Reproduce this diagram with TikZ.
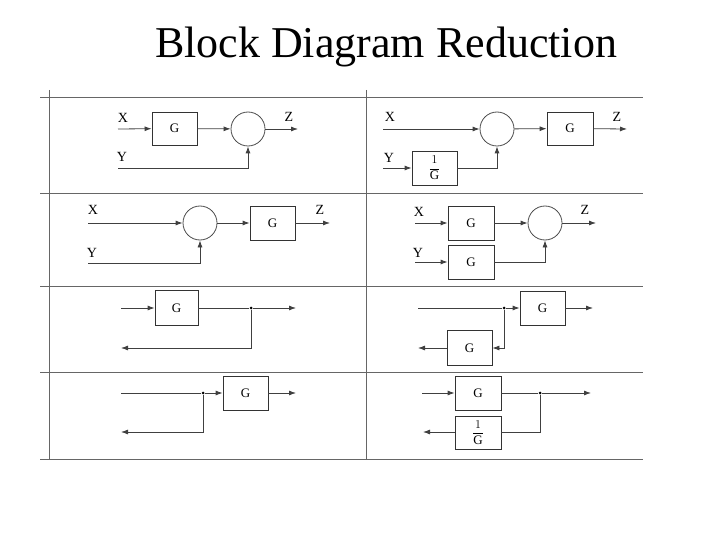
\documentclass[tikz,border=0pt]{standalone}
\usepackage{fontspec}
\setmainfont{Liberation Serif}
\usetikzlibrary{arrows.meta}
\begin{document}
\begin{tikzpicture}[x=1pt,y=-1pt,
  blk/.style={draw,thick,draw=black!80,minimum width=0pt,minimum height=0pt,inner sep=0pt,font=\fontsize{13}{14}\selectfont},
  sum/.style={draw,thick,draw=black!70,circle,minimum size=34pt,inner sep=0pt},
  ln/.style={thick,draw=black!75},
  ar/.style={ln,-{Latex[length=7pt,width=5pt]}},
  lab/.style={font=\fontsize{14}{15}\selectfont,inner sep=0pt},
  dot/.style={circle,fill=black,inner sep=0pt,minimum size=3pt},
  grid/.style={thick,draw=black!60}]
\useasboundingbox (0,0) rectangle (720,540);
\node[font=\fontsize{44}{46}\selectfont] (title) at (386,47) {Block Diagram Reduction};
% grid
\foreach \yy in {97,193,286,372,459} \draw[grid] (40,\yy) -- (643,\yy);
\draw[grid] (49,90) -- (49,459);
\draw[grid] (366,90) -- (366,459);
% panel 1 left
\node[blk,minimum width=45pt,minimum height=33pt] (g1) at (174.5,128.5) {G};
\node[sum] (s1) at (248,129) {};
\coordinate (x1) at (118,129); \coordinate (y1) at (118,168); \coordinate (z1) at (298,129);
\node[lab] (lx1) at (123,118) {X}; \node[lab] (ly1) at (122,157) {Y}; \node[lab] (lz1) at (289,117) {Z};
\draw[ar] (x1) -- (g1); \draw[ar] (g1) -- (s1); \draw[ar] (s1) -- (z1);
\draw[ar] (y1) -| (s1);
% panel 1 right
\node[sum] (s2) at (497,129) {};
\node[blk,minimum width=46pt,minimum height=33pt] (g2) at (570,128.5) {G};
\node[blk,minimum width=45pt,minimum height=34pt] (g2b) at (434.5,168) {$\displaystyle\frac{1}{\mathrm{G}}$};
\coordinate (x2) at (383,129); \coordinate (y2) at (383,168); \coordinate (z2) at (627,129);
\node[lab] (lx2) at (390,117) {X}; \node[lab] (ly2) at (389,158) {Y}; \node[lab] (lz2) at (617,117) {Z};
\draw[ar] (x2) -- (s2); \draw[ar] (s2) -- (g2); \draw[ar] (g2) -- (z2);
\draw[ar] (y2) -- (g2b); \draw[ar] (g2b) -| (s2);
% panel 2 left
\node[sum] (s3) at (200,223) {};
\node[blk,minimum width=45pt,minimum height=34pt] (g3) at (272.5,223) {G};
\coordinate (x3) at (88,223); \coordinate (y3) at (88,263); \coordinate (z3) at (330,223);
\node[lab] (lx3) at (93,210) {X}; \node[lab] (ly3) at (92,253) {Y}; \node[lab] (lz3) at (320,210) {Z};
\draw[ar] (x3) -- (s3); \draw[ar] (s3) -- (g3); \draw[ar] (g3) -- (z3);
\draw[ar] (y3) -| (s3);
% panel 2 right
\node[blk,minimum width=46pt,minimum height=34pt] (g4) at (471,223) {G};
\node[blk,minimum width=46pt,minimum height=34pt] (g4b) at (471,262) {G};
\node[sum] (s4) at (545,223) {};
\coordinate (x4) at (415,223); \coordinate (y4) at (415,262); \coordinate (z4) at (596,223);
\node[lab] (lx4) at (419,212) {X}; \node[lab] (ly4) at (418,253) {Y}; \node[lab] (lz4) at (585,210) {Z};
\draw[ar] (x4) -- (g4); \draw[ar] (g4) -- (s4); \draw[ar] (s4) -- (z4);
\draw[ar] (y4) -- (g4b); \draw[ar] (g4b) -| (s4);
% panel 3 left
\node[blk,minimum width=43pt,minimum height=35pt] (g5) at (176.5,308) {G};
\node[dot] (d5) at (251,308) {};
\coordinate (i5) at (121,308); \coordinate (o5) at (296,308); \coordinate (f5) at (121,348);
\draw[ar] (i5) -- (g5); \draw[ln] (g5) -- (d5); \draw[ar] (d5) -- (o5);
\draw[ar] (d5) |- (f5);
% panel 3 right
\node[blk,minimum width=45pt,minimum height=34pt] (g6) at (542.5,308) {G};
\node[blk,minimum width=45pt,minimum height=35pt] (g6b) at (469.5,348) {G};
\node[dot] (d6) at (504,308) {};
\coordinate (i6) at (418,308); \coordinate (o6) at (593,308); \coordinate (f6) at (418,348);
\draw[ln] (i6) -- (d6); \draw[ar] (d6) -- (g6); \draw[ar] (g6) -- (o6);
\draw[ar] (d6) |- (g6b); \draw[ar] (g6b) -- (f6);
% panel 4 left
\node[blk,minimum width=45pt,minimum height=34pt] (g7) at (245.5,393) {G};
\node[dot] (d7) at (203,393) {};
\coordinate (i7) at (121,393); \coordinate (o7) at (296,393); \coordinate (f7) at (121,432);
\draw[ln] (i7) -- (d7); \draw[ar] (d7) -- (g7); \draw[ar] (g7) -- (o7);
\draw[ar] (d7) |- (f7);
% panel 4 right
\node[blk,minimum width=46pt,minimum height=34pt] (g8) at (478,393) {G};
\node[blk,minimum width=46pt,minimum height=33pt] (g8b) at (478,432.5) {$\displaystyle\frac{1}{\mathrm{G}}$};
\node[dot] (d8) at (540,393) {};
\coordinate (i8) at (422,393); \coordinate (o8) at (591,393); \coordinate (f8) at (423,432);
\draw[ar] (i8) -- (g8); \draw[ln] (g8) -- (d8); \draw[ar] (d8) -- (o8);
\draw[ln] (d8) |- (g8b.east |- f8); \draw[ar] (g8b.west |- f8) -- (f8);
\end{tikzpicture}
\end{document}
